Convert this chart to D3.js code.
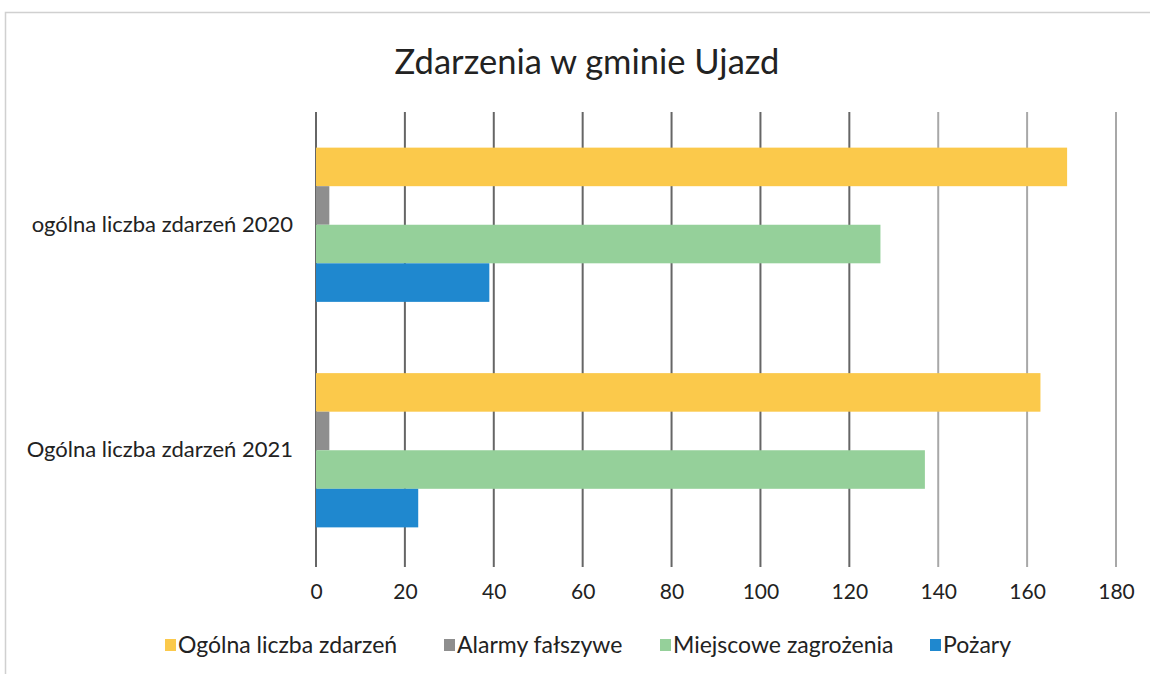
<!DOCTYPE html>
<html>
<head>
<meta charset="utf-8">
<script src="https://cdn.jsdelivr.net/npm/d3@7"></script>
<style>
  body { margin: 0; background: #fff; }
  svg { font-family: Lato, "Open Sans", sans-serif; }
</style>
</head>
<body>
<div class="chart"></div>
<script>
const categories = ['ogólna liczba zdarzeń 2020', 'Ogólna liczba zdarzeń 2021'];
const seriesNames = ['Ogólna liczba zdarzeń', 'Alarmy fałszywe', 'Miejscowe zagrożenia', 'Pożary'];
const ogolna = [169, 163];
const alarmy = [3, 3];
const miejscowe = [127, 137];
const pozary = [39, 23];
const xTicks = [0, 20, 40, 60, 80, 100, 120, 140, 160, 180];

const colors = ['#fbc94b', '#8e8e8e', '#95d09a', '#1f88cf'];
const seriesValues = [ogolna, alarmy, miejscowe, pozary];

const width = 1150;
const height = 674;
const margin = { top: 112, right: 34, bottom: 111, left: 316 };
const graphWidth = width - margin.left - margin.right;
const graphHeight = height - margin.top - margin.bottom;

const svg = d3.select('.chart')
  .append('svg')
  .attr('width', width)
  .attr('height', height);

// faint frame of the scanned chart area
svg.append('path')
  .attr('d', `M5.5,674 V12.5 H1150`)
  .attr('fill', 'none')
  .attr('stroke', '#d0d0d0')
  .attr('stroke-width', 1.5);

svg.append('text')
  .attr('x', 587)
  .attr('y', 74)
  .attr('text-anchor', 'middle')
  .attr('font-size', 34.5)
  .attr('fill', '#222')
  .text('Zdarzenia w gminie Ujazd');

const graph = svg.append('g')
  .attr('transform', `translate(${margin.left}, ${margin.top})`);

const x = d3.scaleLinear().domain([0, 180]).range([0, graphWidth]);
const y0 = d3.scaleBand().domain(categories).range([0, graphHeight]).paddingInner(0.316).paddingOuter(0.158);
const y1 = d3.scaleBand().domain(seriesNames).range([0, y0.bandwidth()]);

// gridlines
graph.append('g')
  .selectAll('line')
  .data(xTicks)
  .enter()
  .append('line')
  .attr('x1', d => x(d))
  .attr('x2', d => x(d))
  .attr('y1', 0)
  .attr('y2', graphHeight + 4)
  .attr('stroke', d => d >= 140 ? '#a8a8a8' : '#666')
  .attr('stroke-width', 2);

// bars
const groups = graph.selectAll('.cat')
  .data(categories)
  .enter()
  .append('g')
  .attr('class', 'cat')
  .attr('transform', d => `translate(0, ${y0(d)})`);

groups.selectAll('rect')
  .data((d, ci) => seriesNames.map((s, si) => ({ s, si, v: seriesValues[si][ci] })))
  .enter()
  .append('rect')
  .attr('x', 0)
  .attr('y', d => y1(d.s))
  .attr('width', d => x(d.v))
  .attr('height', y1.bandwidth())
  .attr('fill', d => colors[d.si]);

// category labels
const yAxis = d3.axisLeft(y0).tickSize(0).tickPadding(23);
const yAxisGroup = graph.append('g').call(yAxis);
yAxisGroup.select('.domain').remove();
yAxisGroup.selectAll('text')
  .attr('font-family', 'Lato, sans-serif')
  .attr('font-size', 22)
  .attr('fill', '#222');

// x axis labels
const xAxis = d3.axisBottom(x).tickValues(xTicks).tickSize(0).tickPadding(21);
const xAxisGroup = graph.append('g')
  .attr('transform', `translate(0, ${graphHeight})`)
  .call(xAxis);
xAxisGroup.select('.domain').remove();
xAxisGroup.selectAll('text')
  .attr('font-family', 'Lato, sans-serif')
  .attr('font-size', 21)
  .attr('fill', '#222');

// legend
const legendX = [165, 444, 660, 930];
const legend = svg.append('g')
  .selectAll('g')
  .data(seriesNames)
  .enter()
  .append('g')
  .attr('transform', (d, i) => `translate(${legendX[i]}, 645)`);

legend.append('rect')
  .attr('x', 0)
  .attr('y', -6)
  .attr('width', 11)
  .attr('height', 12)
  .attr('fill', (d, i) => colors[i]);

legend.append('text')
  .attr('x', 13)
  .attr('y', 8)
  .attr('font-size', 23)
  .attr('fill', '#222')
  .text(d => d);
</script>
</body>
</html>
